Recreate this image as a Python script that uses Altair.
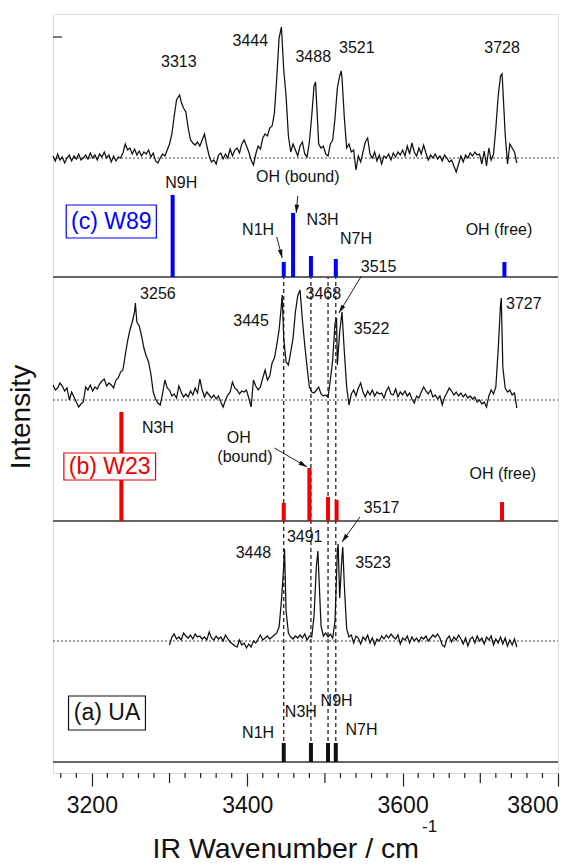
import math
import altair as alt
import pandas as pd

# ---------------------------------------------------------------------------
# Spectra: intensities on a 3 cm-1 grid (arbitrary units, baseline = 0)
# ---------------------------------------------------------------------------
GRID_STEP = 3

W89_START = 3150
W89_TRACE = [
    2, -3, 4, -2, 1, -5, 0, 3, -3, 2,            # 3150
    -1, 4, -2, 0, 3, -1, 5, 0, 3, -2,            # 3180
    4, 1, 6, 0, 3, -4, 2, -3, 1, 0,              # 3210
    5, 14, 8, 10, 4, 9, 3, 7, 2, 6,              # 3240
    4, 8, 1, 5, -3, -5, 0, 4, 2, 8,              # 3270
    14, 24, 42, 58, 62, 56, 50, 46, 30, 18,      # 3300
    15, 13, 16, 12, 18, 24, 12, 2, -4, -2,       # 3330
    -6, 3, 5, -1, 4, 0, 9, 2, 8, 10,             # 3360
    5, 14, 18, 12, 6, -2, -7, 4, 12, 9,          # 3390
    20, 24, 22, 30, 32, 45, 80, 120, 131, 88,    # 3420
    62, 22, 6, 14, 8, 2, 12, 16, 4, 1,           # 3450
    16, 42, 72, 60, 14, 10, 12, 4, 2, 14,        # 3480
    18, 40, 70, 82, 80, 40, 10, 14, 6, 8,        # 3510
    -12, 2, -4, 6, 16, 20, 4, 0, 6, -3,          # 3540
    3, -6, 2, 0, 4, -2, 5, 1, 6, 3,              # 3570
    8, 2, 12, 4, 15, 6, 2, 10, 4, 13,            # 3600
    5, -2, 3, 0, 4, -1, 2, -3, 3, 0,             # 3630
    -4, -2, -8, -14, -6, 2, -4, 3, 0, 5,         # 3660
    2, 6, 3, 4, -6, 7, -8, 10, -2, 4,            # 3690
    30, 62, 82, 70, 24, -6, 14, 10, 6, -5,       # 3720
]
W89_PEAKS = [3313, 3444, 3488, 3521, 3728]
W89_PEAK_H = [63, 131, 76, 87, 84]

W23_START = 3150
W23_TRACE = [
    15, 10, 12, 17, 14, 9, 12, 0, 8, 3,          # 3150
    -2, -7, -4, -2, 13, 10, 15, 9, 13, 11,       # 3180
    16, 19, 21, 14, 17, 15, 12, 20, 22, 28,      # 3210
    30, 45, 59, 70, 78, 88, 78, 74, 64, 52,      # 3240
    44, 38, 26, 8, 1, -3, -5, 6, 20, 12,         # 3270
    10, 4, 6, 2, 14, 8, 3, 6, 3, 9,              # 3300
    5, 12, 7, 21, 10, 3, 8, 5, 2, 5,             # 3330
    1, 4, -2, -7, 0, 5, 8, 18, 12, 10,           # 3360
    6, 9, 8, 10, 2, -7, 20, 14, 10, 13,          # 3390
    22, 30, 20, 24, 37, 42, 55, 70, 95, 62,      # 3420
    38, 35, 48, 62, 88, 104, 110, 80, 55, 33,    # 3450
    13, 8, 7, 10, 13, 6, 4, 5, 3, 20,            # 3480
    40, 77, 35, 68, 88, 48, 13, -5, 6, 10,       # 3510
    4, 12, 17, 8, 3, 9, 5, 10, 4, 8,             # 3540
    6, 7, 2, 9, 13, 6, 5, 11, 3, 8,              # 3570
    5, 9, 4, 7, 1, -3, 4, 2, 8, 13,              # 3600
    9, 6, 10, 3, 5, 1, 4, -5, 3, 7,              # 3630
    12, 9, 5, 8, 4, 7, 3, 6, 2, 4,               # 3660
    1, 3, -2, 0, -4, -2, -7, 4, 10, 6,           # 3690
    13, 50, 95, 33, 12, 8, 10, 5, 7, -8,         # 3720
]
W23_PEAKS = [3256, 3445, 3468, 3515, 3522, 3727]
W23_PEAK_H = [97, 105, 110, 82, 88, 102]

UA_START = 3300
UA_TRACE = [
    -4, 4, 7, 2, 4, 1, 8, 5, 3, 6,               # 3300
    2, 7, 4, 5, 2, 4, 1, 9, 3, 1,                # 3330
    5, 2, 4, 0, 6, 2, -1, -3, -5, -6,            # 3360
    1, -4, -2, -7, -3, -6, 0, -2, 2, 6,          # 3390
    1, 3, 5, 2, 4, 6, 8, 14, 40, 75,             # 3420
    30, 8, 4, 2, 5, 3, 6, 3, 7, 1,               # 3450
    5, 4, 25, 75, 70, 15, 5, 8, 4, 7,            # 3480
    3, 20, 90, 43, 85, 55, 12, 4, 6, -2,         # 3510
    5, 3, -3, 4, 1, 6, -2, 3, -4, 2,             # 3540
    0, 5, 2, 6, 3, 7, 4, 2, 6, -3,               # 3570
    3, 1, 5, -2, 4, 0, 3, -1, 4, 2,              # 3600
    5, 0, 3, 6, 4, 7, 3, -4, -6, 2,              # 3630
    5, -1, 4, 1, 6, 2, -3, 3, -5, 2,             # 3660
    4, -2, 5, 0, 3, -3, 4, 1, 5, -4,             # 3690
    2, -2, 4, -3, 3, -5, 1, -4, 2, -6,           # 3720
]
UA_PEAKS = [3448, 3491, 3517, 3523]
UA_PEAK_H = [92, 90, 97, 94]

# Calculated stick spectra (position, relative intensity)
W89_STICK_WN = [3304, 3447, 3459, 3482, 3514, 3731]
W89_STICK_H = [82, 15, 64, 21, 18, 15]
W23_STICK_WN = [3238, 3447, 3480, 3504, 3515, 3728]
W23_STICK_H = [109, 18, 53, 24, 21, 19]
UA_STICK_WN = [3447, 3482, 3504, 3514]
UA_STICK_H = [19, 19, 19, 19]

# Peak-label placement (wavenumber, height) in the same order as the peaks
W89_LABEL_POS = [(3312, 711), (3404, 732), (3485, 716), (3541, 725), (3728, 725)]
W23_LABEL_POS = [(3285, 479), (3405, 452), (3498, 479), (3569, 506), (3560, 444), (3756, 469)]
UA_LABEL_POS = [(3408, 220), (3474, 236), (3573, 265), (3562, 210)]

# Mode assignments
MODE_TEXT = ["N9H", "OH (bound)", "N1H", "N3H", "N7H", "OH (free)",
             "N3H", "OH", "(bound)", "OH (free)",
             "N1H", "N3H", "N9H", "N7H"]
MODE_WN = [3315, 3465, 3414, 3497, 3540, 3724,
           3285, 3389, 3397, 3729,
           3414, 3469, 3515, 3547]
MODE_Y = [590, 596, 543, 553, 534, 543,
          345, 335, 316, 299,
          40, 61, 72, 43]

# Arrows (start wn, start y, end wn, end y)
ARROWS = [
    (3465, 577, 3463, 560),
    (3438, 536, 3445, 515),
    (3547, 497, 3518, 460),
    (3435, 325, 3477, 306),
    (3545, 256, 3522, 231),
]

# Panel tags
TAG_TEXT = ["(c) W89", "(b) W23", "(a) UA"]
TAG_COLOR = ["#0000ff", "#ee0000", "#111111"]
TAG_BOX = [(3167, 3283, 535, 568), (3164, 3282, 293, 320), (3170, 3269, 43, 77)]

# Vertical layout of the stacked panels (common height axis)
W, H = 505, 759
X0, X1 = 3150, 3800
W89_BASE, W23_BASE, UA_BASE = 615, 373, 132         # spectrum zero lines
W89_FLOOR, W23_FLOOR, UA_FLOOR = 496, 252, 11       # stick baselines
BLUE, RED, BLACK = "#0000ff", "#ee0000", "#111111"
FONT = "Liberation Sans"

xscale = alt.Scale(domain=[X0, X1], nice=False, zero=False)
yscale = alt.Scale(domain=[0, H], nice=False, zero=False)
xaxis = alt.Axis(values=[3200, 3400, 3600, 3800], format="d", tickSize=13,
                 tickColor="#222", tickWidth=1.2, domain=False, grid=False,
                 labelFontSize=23, labelFont=FONT, labelColor="#111", labelPadding=8,
                 title="IR Wavenumber / cm", titleFont=FONT, titleFontSize=28.5,
                 titleFontWeight="normal", titleColor="#111",
                 titleAlign="left", titleBaseline="alphabetic", titleX=99, titleY=84)


def X(field):
    return alt.X(field, type="quantitative", scale=xscale, axis=xaxis)


def Y(field):
    return alt.Y(field, type="quantitative", scale=yscale, axis=None)


def spectrum(start, trace, peaks, heights, base, name):
    pts = [(start + GRID_STEP * i, v) for i, v in enumerate(trace)]
    pts = [(w, v) for w, v in pts if all(abs(w - p) > 0.5 for p in peaks)]
    pts += list(zip(peaks, heights))
    pts.sort()
    return pd.DataFrame({"wn": [p[0] for p in pts],
                         "y": [base + p[1] for p in pts],
                         "panel": name})


spec = pd.concat([
    spectrum(W89_START, W89_TRACE, W89_PEAKS, W89_PEAK_H, W89_BASE, "W89"),
    spectrum(W23_START, W23_TRACE, W23_PEAKS, W23_PEAK_H, W23_BASE, "W23"),
    spectrum(UA_START, UA_TRACE, UA_PEAKS, UA_PEAK_H, UA_BASE, "UA"),
])

sticks = pd.concat([
    pd.DataFrame({"wn": W89_STICK_WN, "y0": W89_FLOOR,
                  "y1": [W89_FLOOR + h for h in W89_STICK_H], "c": BLUE}),
    pd.DataFrame({"wn": W23_STICK_WN, "y0": W23_FLOOR,
                  "y1": [W23_FLOOR + h for h in W23_STICK_H], "c": RED}),
    pd.DataFrame({"wn": UA_STICK_WN, "y0": UA_FLOOR,
                  "y1": [UA_FLOOR + h for h in UA_STICK_H], "c": BLACK}),
])

peak_labels = pd.DataFrame({
    "text": [str(p) for p in W89_PEAKS + W23_PEAKS + UA_PEAKS],
    "wn": [p[0] for p in W89_LABEL_POS + W23_LABEL_POS + UA_LABEL_POS],
    "y": [p[1] for p in W89_LABEL_POS + W23_LABEL_POS + UA_LABEL_POS],
})
mode_labels = pd.DataFrame({"text": MODE_TEXT, "wn": MODE_WN, "y": MODE_Y})

px_per_wn = W / (X1 - X0)
arrow_lines = pd.DataFrame(ARROWS, columns=["xa", "ya", "xb", "yb"])
arrow_lines["ang"] = [
    math.degrees(math.atan2((xb - xa) * px_per_wn, (yb - ya))) % 360
    for xa, ya, xb, yb in ARROWS
]

tags = pd.DataFrame({
    "text": TAG_TEXT, "c": TAG_COLOR,
    "xa": [b[0] for b in TAG_BOX], "xb": [b[1] for b in TAG_BOX],
    "ya": [b[2] for b in TAG_BOX], "yb": [b[3] for b in TAG_BOX],
})
tags["xm"] = (tags["xa"] + tags["xb"]) / 2
tags["ym"] = (tags["ya"] + tags["yb"]) / 2

zero_lines = pd.DataFrame({"y": [W89_BASE, W23_BASE, UA_BASE]})
floors = pd.DataFrame({"y": [W89_FLOOR, W23_FLOOR, UA_FLOOR]})
guides = pd.DataFrame({"wn": UA_STICK_WN, "ya": UA_FLOOR, "yb": W89_FLOOR})

# secondary x ticks hanging below the frame: every 100 (medium) and every 20 (short)
sub_ticks = pd.DataFrame({"wn": [w for w in range(3160, 3800, 20) if w % 200 != 0]})
sub_ticks["top"] = 0
sub_ticks["bottom"] = [-10 if w % 100 == 0 else -5 for w in sub_ticks["wn"]]

# --- layers -----------------------------------------------------------------
dotted = alt.Chart(zero_lines).mark_rule(color="#444", strokeWidth=1, strokeDash=[2, 2]).encode(
    x=alt.value(0), x2=alt.value(W), y=Y("y"))

guide_lines = alt.Chart(guides).mark_rule(color="#111", strokeWidth=1.2, strokeDash=[4, 3]).encode(
    x=X("wn"), y=Y("ya"), y2="yb")

floor_lines = alt.Chart(floors).mark_rule(color="#333", strokeWidth=1.5).encode(
    x=alt.value(0), x2=alt.value(W), y=Y("y"))

stick_marks = alt.Chart(sticks).mark_rule(strokeWidth=4).encode(
    x=X("wn"), y=Y("y0"), y2="y1", color=alt.Color("c:N", scale=None))

lines = alt.Chart(spec).mark_line(color="#111", strokeWidth=1.25, interpolate="linear").encode(
    x=X("wn"), y=Y("y"), detail="panel:N", order="wn:Q")

peak_text = alt.Chart(peak_labels).mark_text(
    font=FONT, fontSize=16, color="#111", align="center", baseline="middle").encode(
    x=X("wn"), y=Y("y"), text="text:N")

mode_text = alt.Chart(mode_labels).mark_text(
    font=FONT, fontSize=16, color="#111", align="center", baseline="middle").encode(
    x=X("wn"), y=Y("y"), text="text:N")

arrow_shaft = alt.Chart(arrow_lines).mark_rule(color="#222", strokeWidth=1).encode(
    x=X("xa"), y=Y("ya"), x2="xb", y2="yb")

arrow_head = alt.Chart(arrow_lines).mark_point(
    shape="M0,0L0.55,2L-0.55,2Z", filled=True, size=70, color="#111", opacity=1).encode(
    x=X("xb"), y=Y("yb"), angle=alt.Angle("ang:Q", scale=None))

tag_box = alt.Chart(tags).mark_rect(fill="white", strokeWidth=1.2).encode(
    x=X("xa"), x2="xb", y=Y("ya"), y2="yb", stroke=alt.Stroke("c:N", scale=None))

tag_text = alt.Chart(tags).mark_text(
    font=FONT, fontSize=23, align="center", baseline="middle").encode(
    x=X("xm"), y=Y("ym"), text="text:N", color=alt.Color("c:N", scale=None))

sub_tick_marks = alt.Chart(sub_ticks).mark_rule(color="#222", strokeWidth=1.2).encode(
    x=X("wn"), y=Y("top"), y2="bottom")

y_tick = alt.Chart(pd.DataFrame({"y": [736]})).mark_rule(color="#222", strokeWidth=1.2).encode(
    x=alt.value(0), x2=alt.value(9), y=Y("y"))

y_title = alt.Chart(pd.DataFrame({"t": ["Intensity"]})).mark_text(
    font=FONT, fontSize=28, angle=270, align="center", baseline="middle", color="#111").encode(
    x=alt.value(-31), y=alt.value(403), text="t:N")

unit_sup = alt.Chart(pd.DataFrame({"t": ["-1"]})).mark_text(
    font=FONT, fontSize=17, align="left", baseline="alphabetic", color="#111").encode(
    x=alt.value(369), y=alt.value(818), text="t:N")

chart = alt.layer(
    dotted, guide_lines, floor_lines, stick_marks, lines,
    tag_box, tag_text, peak_text, mode_text, arrow_shaft, arrow_head,
    sub_tick_marks, y_tick, y_title, unit_sup,
).properties(
    width=W, height=H,
    autosize=alt.AutoSizeParams(type="none"),
    padding={"left": 53, "top": 14, "right": 27, "bottom": 93},
).configure_view(
    stroke="#333", strokeWidth=1.5
).configure(background="white")

chart.save("out.html", embed_options={"renderer": "svg", "actions": False})
